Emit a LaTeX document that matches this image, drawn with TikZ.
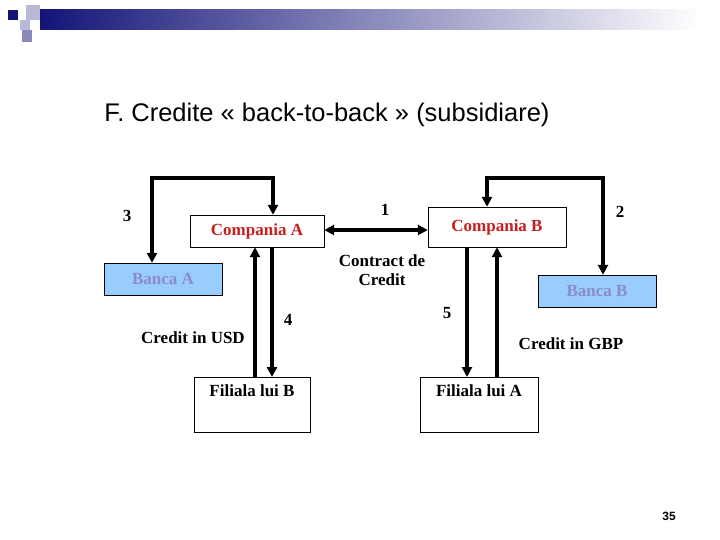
\documentclass[tikz,border=0pt]{standalone}
\usepackage{fontspec}
\setmainfont{Liberation Serif}
\newfontfamily\arialfont{Liberation Sans}
\usetikzlibrary{arrows.meta}
\definecolor{navy}{RGB}{20,20,120}
\definecolor{bankfill}{RGB}{153,204,255}
\definecolor{bankfont}{RGB}{140,140,200}
\definecolor{compred}{RGB}{200,30,30}
\tikzset{
  flow/.style={line width=3.5pt,-{Triangle[length=10pt,width=10pt]}},
  twoflow/.style={line width=3.5pt,{Triangle[length=10pt,width=10pt]}-{Triangle[length=10pt,width=10pt]}},
  compbox/.style={draw,fill=white,text=compred,font=\bfseries\fontsize{17}{19}\selectfont},
  bankbox/.style={draw,fill=bankfill,text=bankfont,font=\bfseries\fontsize{17}{19}\selectfont},
  filbox/.style={draw,fill=white,font=\bfseries\fontsize{17}{19}\selectfont},
  lbl/.style={font=\bfseries\fontsize{17}{19}\selectfont,align=center}
}
\begin{document}
\begin{tikzpicture}[x=1pt,y=-1pt]
\useasboundingbox (0,0) rectangle (720,540);
%header
\shade[left color=navy,right color=white] (40,10) rectangle (700,30);
\fill[navy] (8,10) rectangle (18,20);
\fill[navy!30] (26,5) rectangle (40,20);
\fill[navy!30] (20,20) rectangle (30,30);
\fill[navy!50] (22,30) rectangle (32,42);
\node[font=\arialfont\fontsize{25.5}{30}\selectfont] (title) at (327,115) {F. Credite « back-to-back » (subsidiare)};
%boxes
\node[compbox,minimum width=134pt,minimum height=32pt] (ca) at (257,231) {Compania A};
\node[compbox,minimum width=138pt,minimum height=40pt] (cb) at (497,227) {Compania B};
\node[bankbox,minimum width=118pt,minimum height=32pt] (ba) at (163,279) {Banca A};
\node[bankbox,minimum width=118pt,minimum height=32pt] (bb) at (597,291) {Banca B};
\node[filbox,minimum width=116pt,minimum height=55pt,anchor=north] (fb) at (252,377) {};
\node[filbox,minimum width=118pt,minimum height=55pt,anchor=north] (fa) at (479,377) {};
\node[lbl] (fbt) at (252,391) {Filiala lui B};
\node[lbl] (fat) at (479,391) {Filiala lui A};
%connectors
\draw[twoflow] (ba.north -| 152,0) |- (273,178) -- (ca.north -| 273,0);
\draw[twoflow] (cb.north -| 487,0) |- (603,178) -- (bb.north -| 603,0);
\draw[twoflow] (ca.east |- 0,230) -- (cb.west |- 0,230);
\draw[flow] (fb.north -| 255,0) -- (ca.south -| 255,0);
\draw[flow] (ca.south -| 272,0) -- (fb.north -| 272,0);
\draw[flow] (cb.south -| 467,0) -- (fa.north -| 467,0);
\draw[flow] (fa.north -| 497,0) -- (cb.south -| 497,0);
%labels
\node[lbl] (n1) at (385,210) {1};
\node[lbl] (n2) at (620,212) {2};
\node[lbl] (n3) at (127,216) {3};
\node[lbl] (n4) at (288,320) {4};
\node[lbl] (n5) at (447,313) {5};
\node[lbl] (cc) at (382,270) {Contract de\\Credit};
\node[lbl] (usd) at (193,338) {Credit in USD};
\node[lbl] (gbp) at (571,344) {Credit in GBP};
\node[font=\arialfont\bfseries\fontsize{12}{14}\selectfont] (pg) at (669,516) {35};
\end{tikzpicture}
\end{document}
